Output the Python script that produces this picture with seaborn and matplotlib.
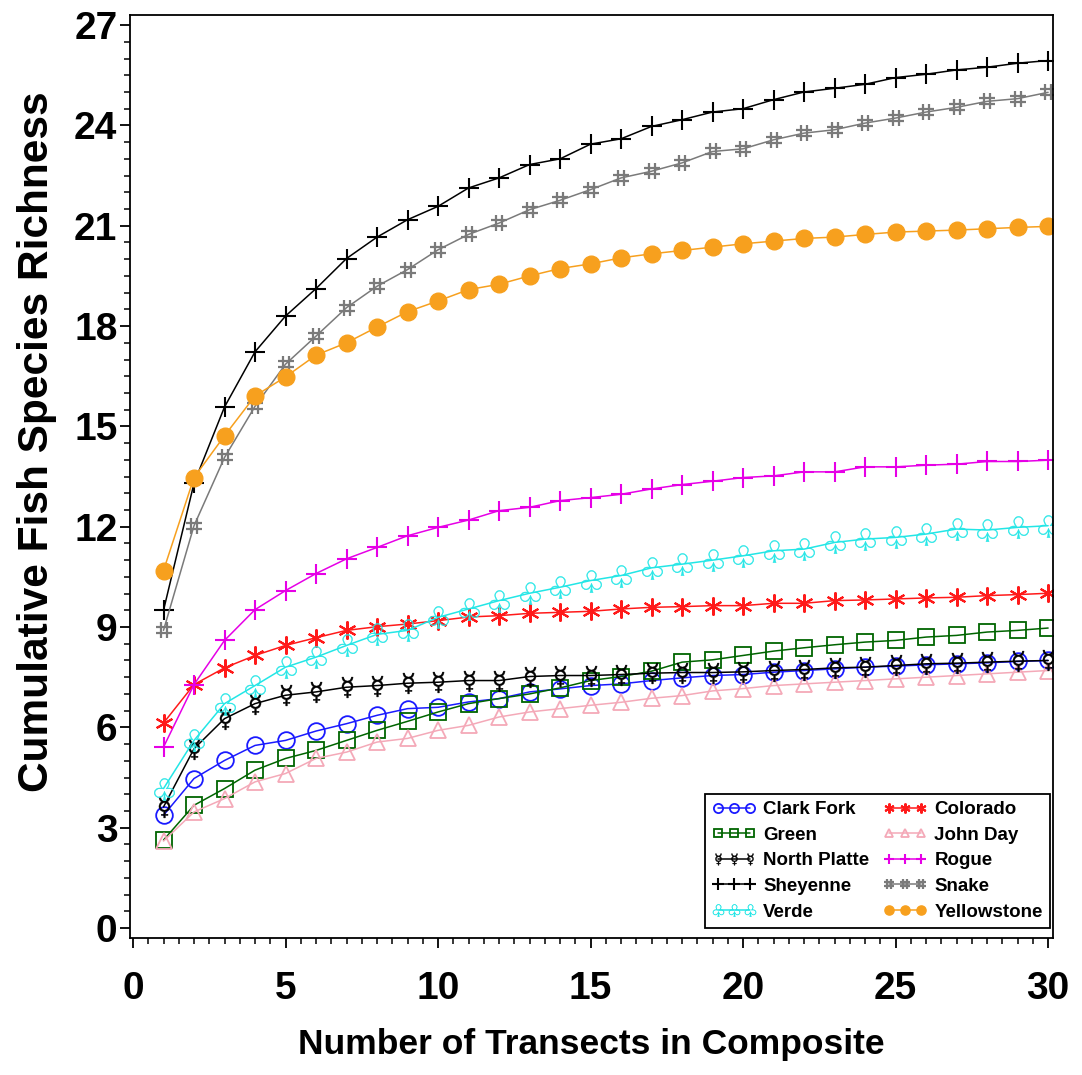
import numpy as np
import pandas as pd
import matplotlib
matplotlib.use("Agg")
import matplotlib.pyplot as plt
from matplotlib.ticker import MultipleLocator
from matplotlib.path import Path
import seaborn as sns

transects = list(range(1, 31))

clark_fork = [3.37, 4.47, 5.01, 5.46, 5.61, 5.89, 6.11, 6.36, 6.56, 6.60, 6.76, 6.86, 7.06, 7.15, 7.25,
              7.30, 7.40, 7.48, 7.55, 7.58, 7.65, 7.70, 7.75, 7.80, 7.83, 7.87, 7.90, 7.93, 7.97, 8.00]
colorado = [6.13, 7.28, 7.78, 8.15, 8.45, 8.68, 8.90, 9.01, 9.09, 9.19, 9.30, 9.34, 9.41, 9.44, 9.47,
            9.54, 9.59, 9.61, 9.64, 9.64, 9.71, 9.71, 9.79, 9.81, 9.84, 9.87, 9.89, 9.94, 9.97, 10.01]
green = [2.63, 3.67, 4.17, 4.72, 5.07, 5.31, 5.61, 5.91, 6.18, 6.46, 6.71, 6.86, 7.00, 7.18, 7.40,
         7.52, 7.68, 7.95, 8.02, 8.15, 8.28, 8.38, 8.47, 8.55, 8.60, 8.70, 8.75, 8.85, 8.90, 8.97]
john_day = [2.60, 3.47, 3.87, 4.37, 4.62, 5.07, 5.26, 5.56, 5.67, 5.91, 6.06, 6.31, 6.46, 6.56, 6.66,
            6.75, 6.87, 6.95, 7.09, 7.16, 7.25, 7.30, 7.35, 7.40, 7.45, 7.50, 7.55, 7.60, 7.65, 7.70]
north_platte = [3.62, 5.36, 6.26, 6.71, 6.96, 7.06, 7.20, 7.25, 7.32, 7.35, 7.40, 7.40, 7.52, 7.55, 7.55,
                7.58, 7.62, 7.64, 7.64, 7.66, 7.70, 7.73, 7.78, 7.80, 7.85, 7.90, 7.92, 7.95, 7.98, 8.00]
rogue = [5.41, 7.28, 8.60, 9.52, 10.09, 10.60, 11.04, 11.38, 11.73, 11.98, 12.20, 12.48, 12.58, 12.78, 12.87,
         12.97, 13.13, 13.26, 13.36, 13.47, 13.52, 13.64, 13.64, 13.79, 13.79, 13.84, 13.87, 13.95, 13.95, 13.99]
sheyenne = [9.50, 13.30, 15.58, 17.23, 18.30, 19.12, 20.02, 20.66, 21.18, 21.58, 22.13, 22.43, 22.83, 23.00, 23.44,
            23.60, 23.97, 24.17, 24.40, 24.50, 24.77, 25.00, 25.11, 25.23, 25.43, 25.53, 25.66, 25.74, 25.86, 25.94]
snake = [8.90, 12.03, 14.07, 15.60, 16.86, 17.70, 18.55, 19.19, 19.69, 20.28, 20.74, 21.08, 21.48, 21.76, 22.08,
         22.43, 22.63, 22.88, 23.22, 23.30, 23.57, 23.77, 23.87, 24.07, 24.22, 24.40, 24.54, 24.72, 24.80, 24.99]
verde = [4.17, 5.61, 6.71, 7.25, 7.80, 8.10, 8.45, 8.78, 8.90, 9.29, 9.54, 9.79, 10.01, 10.19, 10.39,
         10.54, 10.77, 10.88, 11.00, 11.13, 11.28, 11.33, 11.53, 11.63, 11.68, 11.78, 11.93, 11.90, 11.98, 12.03]
yellowstone = [10.69, 13.47, 14.72, 15.91, 16.48, 17.13, 17.50, 17.97, 18.43, 18.75, 19.09, 19.25, 19.50, 19.72, 19.86,
               20.04, 20.16, 20.26, 20.36, 20.46, 20.54, 20.62, 20.66, 20.74, 20.81, 20.84, 20.87, 20.91, 20.95, 20.98]

sites = ["Clark Fork", "Colorado", "Green", "John Day", "North Platte",
         "Rogue", "Sheyenne", "Snake", "Verde", "Yellowstone"]
values = [clark_fork, colorado, green, john_day, north_platte,
          rogue, sheyenne, snake, verde, yellowstone]

x_ticks = [0, 5, 10, 15, 20, 25, 30]
y_ticks = [0, 3, 6, 9, 12, 15, 18, 21, 24, 27]

df = pd.DataFrame({
    "Transects": np.tile(transects, len(sites)),
    "Richness": np.concatenate(values),
    "Site": np.repeat(sites, len(transects)),
})

# upright hash-sign marker (line-only path)
_h = 0.4
hash_marker = Path(
    [(-_h, -1), (-_h, 1), (_h, -1), (_h, 1), (-1, -_h), (1, -_h), (-1, _h), (1, _h)],
    [Path.MOVETO, Path.LINETO] * 4,
)

styles = {
    "Clark Fork":   dict(color="#1a1aff", marker="o", ms=12, mfc="none", mew=1.3),
    "Colorado":     dict(color="#ff1a1a", marker=(6, 2, 0), ms=13, mfc="#ff1a1a", mew=1.5),
    "Green":        dict(color="#006400", marker="s", ms=11.5, mfc="none", mew=1.3),
    "John Day":     dict(color="#f4a9b8", marker="^", ms=11.5, mfc="none", mew=1.3),
    "North Platte": dict(color="#000000", marker="$\u263F$", ms=15, mfc="#000000", mew=0.3),
    "Rogue":        dict(color="#e600e6", marker="+", ms=14, mfc="#e600e6", mew=1.5),
    "Sheyenne":     dict(color="#000000", marker="+", ms=15, mfc="#000000", mew=1.5),
    "Snake":        dict(color="#7a7a7a", marker=hash_marker, ms=12, mfc="none", mew=1.6),
    "Verde":        dict(color="#22e6e6", marker="$\u2667$", ms=16, mfc="#22e6e6", mew=0.3),
    "Yellowstone":  dict(color="#f7a01e", marker="o", ms=12, mfc="#f7a01e", mew=1.0),
}

sns.set_style("ticks")
plt.rcParams["font.family"] = ["Liberation Sans", "DejaVu Sans"]
plt.rcParams["font.weight"] = "bold"
plt.rcParams["text.color"] = "black"
plt.rcParams["axes.labelcolor"] = "black"
plt.rcParams["xtick.color"] = "black"
plt.rcParams["ytick.color"] = "black"
plt.rcParams["axes.edgecolor"] = "black"

fig = plt.figure(figsize=(10.82, 10.75), dpi=100)
ax = fig.add_axes([0.1201, 0.1274, 0.8531, 0.8586])

handles = {}
for site in sites:
    st = styles[site]
    sub = df[df["Site"] == site]
    sns.lineplot(data=sub, x="Transects", y="Richness", ax=ax, color=st["color"],
                 linewidth=1.1, marker=st["marker"], markersize=st["ms"],
                 markerfacecolor=st["mfc"], markeredgecolor=st["color"],
                 markeredgewidth=st["mew"], label=site, legend=False)
    handles[site] = ax.get_lines()[-1]

ax.set_xlim(-0.1, 30.16)
ax.set_ylim(-0.3, 27.3)
ax.set_xticks(x_ticks)
ax.set_yticks(y_ticks)
ax.xaxis.set_minor_locator(MultipleLocator(0.5))
ax.yaxis.set_minor_locator(MultipleLocator(0.5))
ax.tick_params(axis="both", which="major", direction="out", length=7, width=1.3,
               labelsize=28, color="black", labelcolor="black")
ax.tick_params(axis="both", which="minor", direction="out", length=4, width=1.1, color="black")
ax.tick_params(axis="x", which="major", pad=17)
ax.tick_params(axis="y", which="major", pad=2)
for lab in ax.get_xticklabels() + ax.get_yticklabels():
    lab.set_fontweight("bold")
for sp in ax.spines.values():
    sp.set_visible(True)
    sp.set_linewidth(1.3)
    sp.set_color("black")

ax.set_xlabel("Number of Transects in Composite", fontsize=25.5, fontweight="bold", color="black")
ax.set_ylabel("Cumulative Fish Species Richness", fontsize=30.5, fontweight="bold", color="black")
ax.xaxis.set_label_coords(0.5, -0.098)
ax.yaxis.set_label_coords(-0.079, 0.538)

order = ["Clark Fork", "Green", "North Platte", "Sheyenne", "Verde",
         "Colorado", "John Day", "Rogue", "Snake", "Yellowstone"]
leg = ax.legend([handles[s] for s in order], order, ncol=2, loc="lower left",
                bbox_to_anchor=(0.623, 0.0108, 0.374, 0.147), mode="expand",
                fancybox=False, framealpha=1, edgecolor="black", numpoints=3,
                markerscale=0.55, handlelength=2.3, handletextpad=0.4,
                columnspacing=1.0, labelspacing=0.45, borderaxespad=0,
                prop={"family": "Liberation Sans", "weight": "bold", "size": 13.5})
leg.get_frame().set_linewidth(1.3)
for t in leg.get_texts():
    t.set_color("black")

fig.savefig("out.png", dpi=100)
